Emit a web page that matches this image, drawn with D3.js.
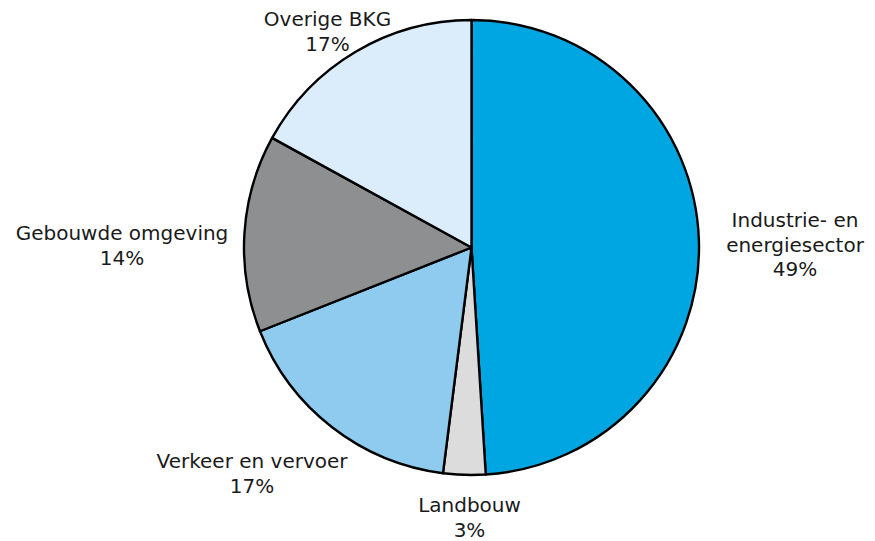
<!DOCTYPE html>
<meta charset="utf-8">
<title>BKG verdeling</title>
<style>
body { margin: 0; background: #fff; }
.slice { stroke: #000; stroke-width: 2.4px; stroke-linejoin: round; }
.label text { font: 20px "DejaVu Sans", sans-serif; fill: #1a1a1a; text-anchor: middle; }
</style>
<svg width="875" height="541"></svg>
<script src="https://cdnjs.cloudflare.com/ajax/libs/d3/7.8.5/d3.min.js"></script>
<script>

var sectors = ["Industrie- en energiesector", "Landbouw", "Verkeer en vervoer", "Gebouwde omgeving", "Overige BKG"];
var shares = [49, 3, 17, 14, 17];
var colors = ["#00a6e2", "#dcdcdd", "#8ecbef", "#8e8f91", "#dbedfa"];
// label lines, split as in the picture
var labelLines = [["Industrie- en", "energiesector"], ["Landbouw"], ["Verkeer en vervoer"], ["Gebouwde omgeving"], ["Overige BKG"]];

var svg = d3.select("svg"),
    cx = 471.5, cy = 247.5, radius = 227.5;

var data = sectors.map(function(s, i) { return {name: s, value: shares[i], lines: labelLines[i]}; });

var pie = d3.pie().sort(null).value(function(d) { return d.value; });
var arc = d3.arc().innerRadius(0).outerRadius(radius);
var color = d3.scaleOrdinal().domain(sectors).range(colors);

var g = svg.append("g").attr("transform", "translate(" + cx + "," + cy + ")");

var arcs = pie(data);

g.selectAll(".slice")
  .data(arcs)
  .enter().append("path")
    .attr("class", "slice")
    .attr("fill", function(d) { return color(d.data.name); })
    .attr("d", arc);

// label block placement (first baseline of each block)
var labelAt = {
  "Industrie- en energiesector": [795, 227],
  "Landbouw": [469.5, 512],
  "Verkeer en vervoer": [252, 468],
  "Gebouwde omgeving": [122, 240],
  "Overige BKG": [327.5, 26]
};

var label = svg.selectAll(".label")
  .data(arcs)
  .enter().append("g")
    .attr("class", "label")
    .attr("transform", function(d) { var p = labelAt[d.data.name]; return "translate(" + p[0] + "," + p[1] + ")"; });

label.each(function(d) {
  var t = d3.select(this);
  var lines = d.data.lines.concat([d.data.value + "%"]);
  lines.forEach(function(l, i) {
    t.append("text").attr("y", i * 24.5).text(l);
  });
});

</script>
